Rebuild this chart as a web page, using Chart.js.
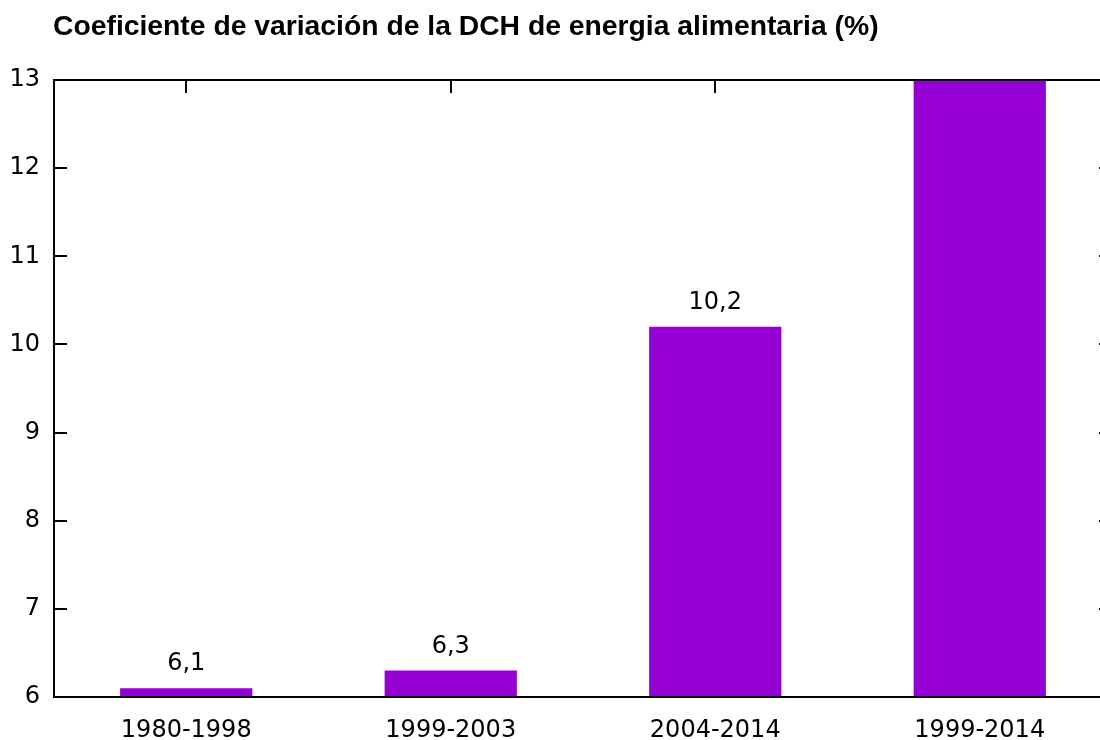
<!DOCTYPE html>
<html>
<head>
<meta charset="utf-8">
<script src="https://cdn.jsdelivr.net/npm/chart.js@4/dist/chart.umd.min.js"></script>
<style>
html,body{margin:0;padding:0;background:#fff;overflow:hidden;width:1100px;height:740px;}
canvas{display:block;}
</style>
</head>
<body>
<canvas id="c" width="1120" height="740"></canvas>
<script>
const titleText = "Coeficiente de variación de la DCH de energia alimentaria (%)";
const categories = ["1980-1998", "1999-2003", "2004-2014", "1999-2014"];
const values = [6.1, 6.3, 10.2, 13.4];
const yTicks = [6, 7, 8, 9, 10, 11, 12, 13];

const barColor = "#9400D3";
const tickFamily = "'DejaVu Sans', sans-serif";
const tickSize = 24;

const framePlugin = {
  id: "frame",
  beforeDatasetsDraw(chart) {
    const {ctx, chartArea: a, scales: {x, y}} = chart;
    ctx.save();
    ctx.strokeStyle = "#000";
    ctx.lineWidth = 2;
    ctx.beginPath();
    yTicks.forEach(v => {
      if (v === y.min || v === y.max) return;
      const py = Math.round(y.getPixelForValue(v));
      ctx.moveTo(a.left, py); ctx.lineTo(a.left + 13, py);
      ctx.moveTo(a.right, py); ctx.lineTo(a.right - 13, py);
    });
    categories.forEach((c, i) => {
      const px = Math.round(x.getPixelForValue(i));
      ctx.moveTo(px, a.top); ctx.lineTo(px, a.top + 13);
    });
    ctx.stroke();
    ctx.restore();
  },
  afterDatasetsDraw(chart) {
    const {ctx, chartArea: a, scales: {y}} = chart;
    ctx.save();
    ctx.strokeStyle = "#000";
    ctx.lineWidth = 2;
    ctx.strokeRect(a.left, a.top, a.right - a.left, a.bottom - a.top);
    ctx.fillStyle = "#000";
    ctx.font = tickSize + "px " + tickFamily;
    ctx.textAlign = "center";
    ctx.textBaseline = "middle";
    const meta = chart.getDatasetMeta(0);
    meta.data.forEach((bar, i) => {
      const v = values[i];
      if (v > y.max) return;
      ctx.fillText(String(v).replace(".", ","), bar.x, bar.y - 24);
    });
    ctx.font = "bold 28.3px 'Liberation Sans'";
    ctx.textAlign = "left";
    ctx.fillText(titleText, 53, 27);
    ctx.restore();
  }
};

function draw() {
  new Chart(document.getElementById("c"), {
    type: "bar",
    data: {
      labels: categories,
      datasets: [{
        data: values,
        backgroundColor: barColor,
        borderWidth: 0,
        barPercentage: 0.5,
        categoryPercentage: 1.0
      }]
    },
    options: {
      responsive: false,
      animation: false,
      layout: {padding: {top: 80, right: 8, bottom: 0, left: 0}},
      plugins: {legend: {display: false}, tooltip: {enabled: false}, title: {display: false}},
      scales: {
        x: {
          grid: {display: false, drawTicks: false},
          border: {display: false},
          ticks: {color: "#000", font: {family: tickFamily, size: tickSize}, padding: 19, maxRotation: 0},
          afterFit(s) { s.height = 43; }
        },
        y: {
          min: 6, max: 13,
          grid: {display: false, drawTicks: false},
          border: {display: false},
          ticks: {color: "#000", stepSize: 1, font: {family: tickFamily, size: tickSize}, padding: 14},
          afterFit(s) { s.width = 54; }
        }
      }
    },
    plugins: [framePlugin]
  });
}
Promise.all([
  document.fonts.load("24px 'DejaVu Sans'"),
  document.fonts.load("bold 28px 'Liberation Sans'")
]).then(draw, draw);
</script>
</body>
</html>
